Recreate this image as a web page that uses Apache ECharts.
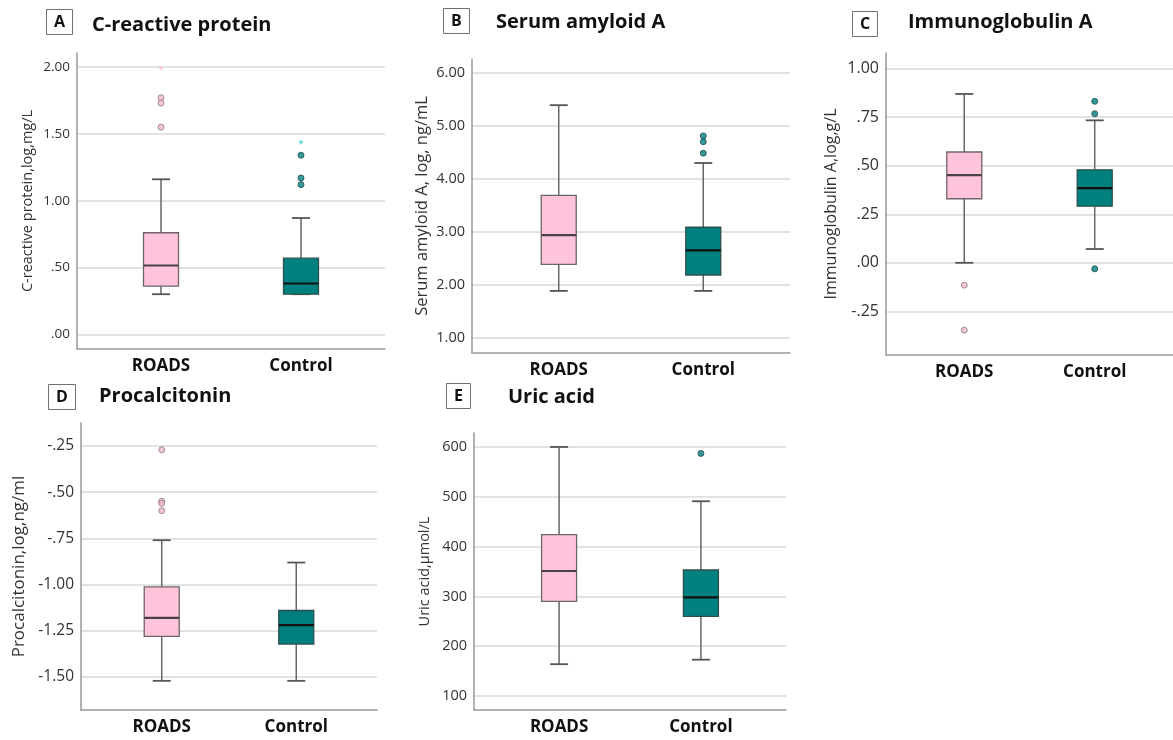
<!DOCTYPE html>
<html><head><meta charset="utf-8">
<script src="https://cdn.jsdelivr.net/npm/echarts@6/dist/echarts.min.js"></script>
<style>html,body{margin:0;padding:0;background:#fff}#c{width:1173px;height:740px}</style>
</head><body><div id="c"></div>
<script>
// ---------- data ----------
const categories = ['ROADS', 'Control'];

// boxes: [lower whisker, Q1, median, Q3, upper whisker]
// A  C-reactive protein
const crpRoads = [0.30, 0.36, 0.515, 0.76, 1.16];
const crpControl = [0.30, 0.30, 0.38, 0.57, 0.87];
const crpOutliersRoads = [1.77, 1.73, 1.55];
const crpOutliersControl = [1.34, 1.17, 1.12];
const crpExtremesRoads = [1.99];
const crpExtremesControl = [1.44];
const crpTicks = [0, 0.5, 1, 1.5, 2];
const crpTickLabels = ['.00', '.50', '1.00', '1.50', '2.00'];

// B  Serum amyloid A
const saaRoads = [1.89, 2.39, 2.94, 3.69, 5.39];
const saaControl = [1.89, 2.19, 2.655, 3.09, 4.30];
const saaOutliersRoads = [];
const saaOutliersControl = [4.81, 4.70, 4.485];
const saaTicks = [1, 2, 3, 4, 5, 6];
const saaTickLabels = ['1.00', '2.00', '3.00', '4.00', '5.00', '6.00'];

// C  Immunoglobulin A
const igaRoads = [0.0, 0.33, 0.452, 0.571, 0.87];
const igaControl = [0.071, 0.292, 0.385, 0.479, 0.734];
const igaOutliersRoads = [-0.115, -0.347];
const igaOutliersControl = [0.832, 0.768, -0.031];
const igaTicks = [-0.25, 0, 0.25, 0.5, 0.75, 1];
const igaTickLabels = ['-.25', '.00', '.25', '.50', '.75', '1.00'];

// D  Procalcitonin
const pctRoads = [-1.522, -1.281, -1.181, -1.013, -0.76];
const pctControl = [-1.522, -1.323, -1.22, -1.141, -0.881];
const pctOutliersRoads = [-0.27, -0.549, -0.56, -0.60];
const pctOutliersControl = [];
const pctTicks = [-1.5, -1.25, -1, -0.75, -0.5, -0.25];
const pctTickLabels = ['-1.50', '-1.25', '-1.00', '-.75', '-.50', '-.25'];

// E  Uric acid
const uaRoads = [164, 290, 351, 424, 600];
const uaControl = [173, 260, 298, 353, 491];
const uaOutliersRoads = [];
const uaOutliersControl = [587];
const uaTicks = [100, 200, 300, 400, 500, 600];
const uaTickLabels = ['100', '200', '300', '400', '500', '600'];

const panelLetters = ['A', 'B', 'C', 'D', 'E'];
const panelTitles = ['C-reactive protein', 'Serum amyloid A', 'Immunoglobulin A', 'Procalcitonin', 'Uric acid'];
const axisNames = ['C-reactive protein,log,mg/L', 'Serum amyloid A, log, ng/mL', 'Immunoglobulin A,log,g/L', 'Procalcitonin,log,ng/ml', 'Uric acid,\u03bcmol/L'];

// ---------- layout / style ----------
const FONT = 'Open Sans';
const PINK = '#ffc4dc', TEAL = '#00807f';
const boxStyle = [
  { fill: PINK, stroke: '#6e6468', median: '#4a4044' },
  { fill: TEAL, stroke: '#2f4f4f', median: '#111111' }
];
const panels = [
  { box: [crpRoads, crpControl], out: [crpOutliersRoads, crpOutliersControl], ext: [crpExtremesRoads, crpExtremesControl], ticks: crpTicks, labels: crpTickLabels,
    grid: { left: 77, top: 53, width: 308, height: 296 }, min: -0.11, max: 2.105, labelSize: 13.5, nameSize: 14.5, nameGap: 42,
    letter: [46, 9], title: [92, 15] },
  { box: [saaRoads, saaControl], out: [saaOutliersRoads, saaOutliersControl], ext: [[], []], ticks: saaTicks, labels: saaTickLabels,
    grid: { left: 472, top: 59, width: 318, height: 294 }, min: 0.72, max: 6.26, labelSize: 14.5, nameSize: 16.5, nameGap: 41,
    letter: [443, 8], title: [496, 12] },
  { box: [igaRoads, igaControl], out: [igaOutliersRoads, igaOutliersControl], ext: [[], []], ticks: igaTicks, labels: igaTickLabels,
    grid: { left: 886, top: 53, width: 287, height: 302 }, min: -0.475, max: 1.081, labelSize: 16, nameSize: 16, nameGap: 47,
    letter: [852, 11], title: [908, 12] },
  { box: [pctRoads, pctControl], out: [pctOutliersRoads, pctOutliersControl], ext: [[], []], ticks: pctTicks, labels: pctTickLabels,
    grid: { left: 81, top: 423, width: 296, height: 287 }, min: -1.68, max: -0.125, labelSize: 15.5, nameSize: 17, nameGap: 53,
    letter: [48, 384], title: [99, 386] },
  { box: [uaRoads, uaControl], out: [uaOutliersRoads, uaOutliersControl], ext: [[], []], ticks: uaTicks, labels: uaTickLabels,
    grid: { left: 474, top: 433, width: 312, height: 277 }, min: 72, max: 628, labelSize: 14.5, nameSize: 14.5, nameGap: 42,
    letter: [446, 383], title: [508, 387] }
];

const X_MIN = -0.6, X_MAX = 1.6;           // category index axis range
const BOX_W = 35, CAP_W = 18, WHISKER = '#666666';

function renderBox(params, api) {
  const ci = api.value(0);
  const pLow = api.coord([ci, api.value(1)]);
  const pQ1 = api.coord([ci, api.value(2)]);
  const pMed = api.coord([ci, api.value(3)]);
  const pQ3 = api.coord([ci, api.value(4)]);
  const pHigh = api.coord([ci, api.value(5)]);
  const cx = pLow[0];
  const st = boxStyle[ci];
  const ws = { stroke: WHISKER, lineWidth: 1.5 };
  return {
    type: 'group',
    children: [
      { type: 'line', shape: { x1: cx, y1: pHigh[1], x2: cx, y2: pQ3[1] }, style: ws },
      { type: 'line', shape: { x1: cx, y1: pQ1[1], x2: cx, y2: pLow[1] }, style: ws },
      { type: 'line', shape: { x1: cx - CAP_W / 2, y1: pHigh[1], x2: cx + CAP_W / 2, y2: pHigh[1] }, style: { stroke: '#555', lineWidth: 1.8 } },
      { type: 'line', shape: { x1: cx - CAP_W / 2, y1: pLow[1], x2: cx + CAP_W / 2, y2: pLow[1] }, style: { stroke: '#555', lineWidth: 1.8 } },
      { type: 'rect', shape: { x: cx - BOX_W / 2, y: pQ3[1], width: BOX_W, height: pQ1[1] - pQ3[1] }, style: { fill: st.fill, stroke: st.stroke, lineWidth: 1.3 } },
      { type: 'line', shape: { x1: cx - BOX_W / 2, y1: pMed[1], x2: cx + BOX_W / 2, y2: pMed[1] }, style: { stroke: st.median, lineWidth: 2.2 } }
    ]
  };
}

const STAR = 'path://M50,0 L61,35 L98,35 L68,57 L79,91 L50,70 L21,91 L32,57 L2,35 L39,35 Z';
const catIndex = categories.map((c, k) => k);

const option = {
  animation: false,
  backgroundColor: '#ffffff',
  title: [], grid: [], xAxis: [], yAxis: [], series: []
};

panels.forEach((p, i) => {
  option.title.push({
    text: panelLetters[i], left: p.letter[0], top: p.letter[1],
    padding: [5, 8, 5, 8], borderColor: '#707070', borderWidth: 1,
    textStyle: { fontFamily: FONT, fontWeight: 'bold', fontSize: 16, color: '#111' }
  });
  option.title.push({
    text: panelTitles[i], left: p.title[0], top: p.title[1], padding: 0,
    textStyle: { fontFamily: FONT, fontWeight: 'bold', fontSize: 20, color: '#111' }
  });
  option.grid.push(Object.assign({ containLabel: false }, p.grid));
  option.xAxis.push({
    type: 'value', gridIndex: i, min: X_MIN, max: X_MAX,
    axisLine: { show: true, onZero: false, lineStyle: { color: '#999', width: 1.5 } },
    axisTick: { show: false, customValues: catIndex },
    axisLabel: { customValues: catIndex, margin: 9, fontFamily: FONT, fontWeight: 'bold', fontSize: 17, color: '#111',
      formatter: v => categories[Math.round(v)] || '' },
    splitLine: { show: false }
  });
  const ticks = p.ticks, labels = p.labels;
  option.yAxis.push({
    type: 'value', gridIndex: i, min: p.min, max: p.max,
    name: axisNames[i], nameLocation: 'middle', nameGap: p.nameGap,
    nameTextStyle: { fontFamily: FONT, fontSize: p.nameSize, color: '#333' },
    axisLine: { show: true, onZero: false, lineStyle: { color: '#999', width: 1.5 } },
    axisTick: { show: false, customValues: ticks },
    axisLabel: { customValues: ticks, margin: 7, fontFamily: FONT, fontSize: p.labelSize, color: '#333',
      formatter: v => { const k = ticks.findIndex(t => Math.abs(t - v) < 1e-9); return k >= 0 ? labels[k] : ''; } },
    splitLine: { show: true, lineStyle: { color: '#d9d9d9', width: 1.5 } }
  });
  option.series.push({
    type: 'custom', xAxisIndex: i, yAxisIndex: i, renderItem: renderBox,
    encode: { x: 0, y: [1, 2, 3, 4, 5] },
    data: p.box.map((b, ci) => [ci].concat(b)), z: 3
  });
  [0, 1].forEach(ci => {
    if (p.out[ci].length) option.series.push({
      type: 'scatter', xAxisIndex: i, yAxisIndex: i, symbol: 'circle', symbolSize: 6, z: 4,
      itemStyle: ci === 0 ? { color: '#f2b8d0', borderColor: '#8a7a80', borderWidth: 1 } : { color: TEAL, borderColor: '#264848', borderWidth: 1 },
      data: p.out[ci].map(v => [ci, v])
    });
    if (p.ext[ci].length) option.series.push({
      type: 'scatter', xAxisIndex: i, yAxisIndex: i, symbol: STAR, symbolSize: 6, z: 4,
      itemStyle: { color: ci === 0 ? '#ffc0da' : '#3cc8c8' },
      data: p.ext[ci].map(v => [ci, v])
    });
  });
});

const chart = echarts.init(document.getElementById('c'), null, { renderer: 'canvas' });
chart.setOption(option);
</script>
</body></html>
